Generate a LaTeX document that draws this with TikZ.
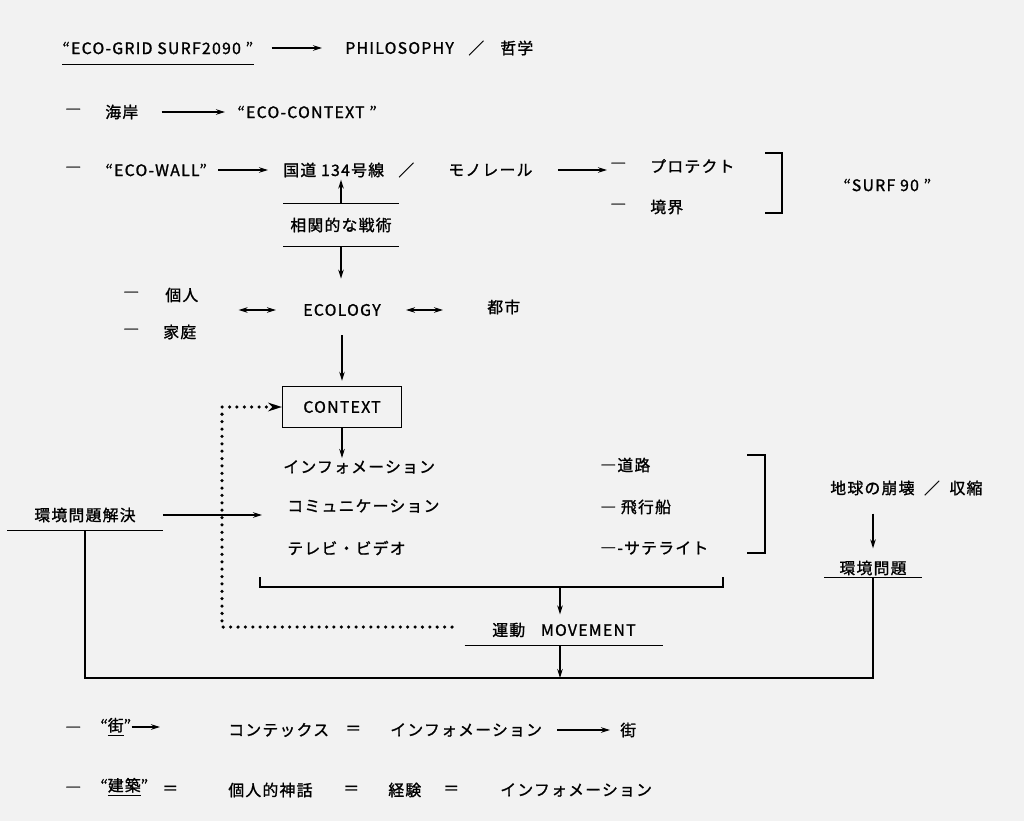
\documentclass[tikz,border=0pt]{standalone}
\usepackage{fontspec}
\setmainfont{Noto Sans CJK JP}[LetterSpace=8,FakeBold=1.2]
\usetikzlibrary{arrows.meta}
\usetikzlibrary{positioning}

\begin{document}
\begin{tikzpicture}
  [x=0.02cm,y=-0.02cm,font=\fontsize{9}{11}\selectfont,
  txt/.style={inner sep=0pt,anchor=west},
  box/.style={draw,line width=0.8pt,inner sep=0pt,minimum width=2.38cm,minimum height=0.82cm},
  uline/.style={inner xsep=0pt,inner ysep=#1},
  arr/.style={-{Stealth[length=1.8mm,width=1.1mm]},line width=0.8pt},
  dblarr/.style={{Stealth[length=1.8mm,width=1.1mm]}-{Stealth[length=1.8mm,width=1.1mm]},line width=0.8pt},
  ln/.style={line width=0.8pt},
  dotline/.style={line width=2pt,line cap=round,dash pattern=on 0pt off 4.2pt,-{Stealth[length=2.8mm,width=1.8mm,line width=0pt]}}]
  \fill[black!5] (0,0) rectangle (1024,821);

  \node[txt] (11) at (62,48) {“ECO-GRID SURF2090 ”};
  \node[txt] (12) at (345,48) {PHILOSOPHY};
  \node[txt] (13) at (468,48) {／};
  \node[txt] (14) at (500,48) {哲学};

  \node[txt] (21) at (65,112) {―};
  \node[txt] (22) at (105,112) {海岸};
  \node[txt] (23) at (237,112) {“ECO-CONTEXT ”};

  \node[txt] (31) at (65,170) {―};
  \node[txt] (32) at (105,170) {“ECO-WALL”};
  \node[txt] (33) at (283,170) {国道 134号線};
  \node[txt] (34) at (398,170) {／};
  \node[txt] (35) at (448,170) {モノレール};
  \node[txt] (36) at (610,166) {―};
  \node[txt] (37) at (650,166) {プロテクト};
  \node[txt] (38) at (610,207) {―};
  \node[txt] (39) at (650,207) {境界};
  \node[txt] (30) at (843,185) {“SURF 90 ”};

  \node[inner sep=0pt,minimum width=2.3cm,minimum height=0.84cm] (41) at (341,225) {相関的な戦術};

  \node[txt] (51) at (123,295) {―};
  \node[txt] (52) at (165,295) {個人};
  \node[txt] (53) at (123,332) {―};
  \node[txt] (54) at (163,332) {家庭};
  \node[inner sep=0pt] (55) at (342,310) {ECOLOGY};
  \node[txt] (56) at (487,307) {都市};

  \node[box] (61) at (342,407) {CONTEXT};

  \node[txt] (71) at (283,467) {インフォメーション};
  \node[txt] (72) at (287,506) {コミュニケーション};
  \node[txt] (73) at (287,548) {テレビ・ビデオ};
  \node[txt] (74) at (600,465) {―道路};
  \node[txt] (75) at (600,507) {― 飛行船};
  \node[txt] (76) at (600,548) {―-サテライト};
  \node[uline=0.16cm,minimum width=3.1cm] (77) at (85,515) {環境問題解決};
  \node[txt] (78) at (830,488) {地球の崩壊\ \ ／\ \ 収縮};
  \node[uline=0.04cm,minimum width=1.94cm] (79) at (873,568) {環境問題};

  \node[uline=0.16cm,minimum width=3.96cm] (81) at (564,630) {運動\quad MOVEMENT};

  \node[txt] (91) at (65,730) {―};
  \node[txt] (92) at (100,727) {“\underline{街}”};
  \node[txt] (93) at (228,730) {コンテックス};
  \node[txt] (94) at (345,730) {＝};
  \node[txt] (95) at (390,730) {インフォメーション};
  \node[txt] (96) at (620,730) {街};

  \node[txt] (101) at (65,790) {―};
  \node[txt] (102) at (100,787) {“\underline{建築}”};
  \node[txt] (103) at (162,790) {＝};
  \node[txt] (104) at (228,790) {個人的神話};
  \node[txt] (105) at (343,790) {＝};
  \node[txt] (106) at (388,790) {経験};
  \node[txt] (107) at (443,790) {＝};
  \node[txt] (108) at (500,790) {インフォメーション};

  \coordinate (dotend) at (452,627);
  \coordinate (dotcorner) at (222,627);
  \coordinate (listbar) at (560,587);
  \coordinate (base) at (560,678);

  \draw[ln] ([yshift=-0.2cm]11.south west) -- ([yshift=-0.2cm]11.south east);
  \draw[arr,shorten <=0.36cm,shorten >=0.46cm] (11.east) -- (11.east -| 12.west);
  \draw[arr,shorten <=0.46cm,shorten >=0.24cm] (22.east) -- (22.east -| 23.west);
  \draw[arr,shorten <=0.22cm,shorten >=0.3cm] (32.east) -- (32.east -| 33.west);
  \draw[arr,shorten <=0.5cm,shorten >=0.06cm] (35.east) -- (35.east -| 36.west);
  \draw[ln] (765,153) -- (782,153) -- (782,213) -- (765,213);

  \draw[ln] (41.north west) -- (41.north east);
  \draw[ln] (41.south west) -- (41.south east);
  \draw[arr,shorten >=0.04cm] (41.north) -- (41.north |- 33.south);
  \draw[arr,shorten >=0.5cm] (41.south) -- (41.south |- 55.north);

  \draw[dblarr,shorten <=0.8cm,shorten >=0.54cm] (52.east |- 55.west) -- (55.west);
  \draw[dblarr,shorten <=0.5cm,shorten >=0.88cm] (55.east) -- (55.east -| 56.west);
  \draw[arr,shorten <=0.38cm,shorten >=0.1cm] (55.south) -- (61.north);

  \draw[dotline] (dotend) -- (dotcorner) |- (61.west);
  \draw[arr,shorten >=0.04cm] (61.south) -- (61.south |- 71.north);
  \draw[ln] (747,455) -- (765,455) -- (765,553) -- (747,553);

  \draw[ln] (77.south west) -- (77.south east);
  \draw[arr,shorten >=0.5cm] (77.east) -- (77.east -| 72.west);
  \draw[ln] (79.south west) -- (79.south east);
  \draw[arr,shorten <=0.36cm,shorten >=0.2cm] (79.north |- 78.south) -- (79.north);

  \draw[ln] (260,577) -- (260,587) -- (723,587) -- (723,577);
  \draw[arr] (listbar) -- (listbar |- 81.north);
  \draw[ln] (81.south west) -- (81.south east);
  \draw[arr] (81.south -| base) -- (base);
  \draw[ln] (77.south) |- (base) -| (79.south);

  \draw[arr,shorten >=1.36cm] (92.east) -- (92.east -| 93.west);
  \draw[arr,shorten <=0.3cm,shorten >=0.2cm] (95.east) -- (95.east -| 96.west);
\end{tikzpicture}
\end{document}
